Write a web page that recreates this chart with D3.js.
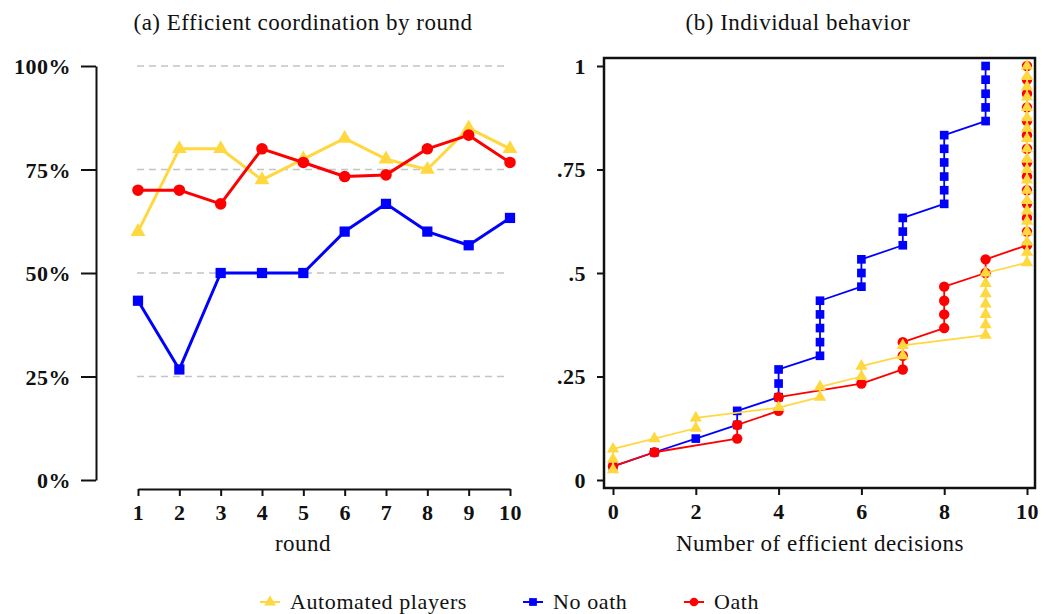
<!DOCTYPE html>
<html>
<head>
<meta charset="utf-8">
<script src="https://cdn.jsdelivr.net/npm/d3@7"></script>
<style>
  body { margin: 0; background: #fff; }
  text { font-family: "Liberation Serif", "DejaVu Serif", serif; fill: #111; }
</style>
</head>
<body>
<div id="chart"></div>
<script>
// ---- data, panel (a): efficient coordination by round ----
var rounds = [1, 2, 3, 4, 5, 6, 7, 8, 9, 10];
var automatedByRound = [0.6, 0.8, 0.8, 0.725, 0.775, 0.825, 0.775, 0.75, 0.85, 0.8];
var noOathByRound    = [0.433, 0.267, 0.5, 0.5, 0.5, 0.6, 0.667, 0.6, 0.567, 0.633];
var oathByRound      = [0.7, 0.7, 0.667, 0.8, 0.767, 0.733, 0.737, 0.8, 0.833, 0.767];
var pctTicks  = [0, 0.25, 0.5, 0.75, 1];
var pctLabels = ['0%', '25%', '50%', '75%', '100%'];

// ---- data, panel (b): cumulative share by number of efficient decisions ----
var automatedX = [0, 0, 0, 1, 2, 2, 4, 5, 5, 6, 6, 7, 7, 9, 9, 9, 9, 9, 9, 9,
                  10, 10, 10, 10, 10, 10, 10, 10, 10, 10, 10, 10, 10, 10, 10, 10, 10, 10, 10, 10];
var automatedY = [0.025, 0.05, 0.075, 0.1, 0.125, 0.15, 0.175, 0.2, 0.225, 0.25,
                  0.275, 0.3, 0.325, 0.35, 0.375, 0.4, 0.425, 0.45, 0.475, 0.5,
                  0.525, 0.55, 0.575, 0.6, 0.625, 0.65, 0.675, 0.7, 0.725, 0.75,
                  0.775, 0.8, 0.825, 0.85, 0.875, 0.9, 0.925, 0.95, 0.975, 1];
var noOathX = [0, 1, 2, 3, 3, 4, 4, 4, 5, 5, 5, 5, 5, 6, 6, 6, 7, 7, 7,
               8, 8, 8, 8, 8, 8, 9, 9, 9, 9, 9];
var noOathY = [0.033, 0.067, 0.1, 0.133, 0.167, 0.2, 0.233, 0.267, 0.3, 0.333,
               0.367, 0.4, 0.433, 0.467, 0.5, 0.533, 0.567, 0.6, 0.633, 0.667,
               0.7, 0.733, 0.767, 0.8, 0.833, 0.867, 0.9, 0.933, 0.967, 1];
var oathX = [0, 1, 3, 3, 4, 4, 6, 7, 7, 7, 8, 8, 8, 8, 9, 9,
             10, 10, 10, 10, 10, 10, 10, 10, 10, 10, 10, 10, 10, 10];
var oathY = [0.033, 0.067, 0.1, 0.133, 0.167, 0.2, 0.233, 0.267, 0.3, 0.333,
             0.367, 0.4, 0.433, 0.467, 0.5, 0.533, 0.567, 0.6, 0.633, 0.667,
             0.7, 0.733, 0.767, 0.8, 0.833, 0.867, 0.9, 0.933, 0.967, 1];
var shareTicks  = [0, 0.25, 0.5, 0.75, 1];
var shareLabels = ['0', '.25', '.5', '.75', '1'];
var decisionTicks = [0, 2, 4, 6, 8, 10];

var seriesNames = ['Automated players', 'No oath', 'Oath'];

var yellow = '#ffd83f', blue = '#0000ff', red = '#ff0000';

var svg = d3.select('#chart')
  .append('svg')
  .attr('width', 1049)
  .attr('height', 614);

// shared vertical scale
var y = d3.scaleLinear().domain([0, 1]).range([480, 66]);

function pts(xs, ys) {
  return xs.map(function(d, i) { return [d, ys[i]]; });
}

// draw one series: line + markers
function drawSeries(g, data, x, color, shape, size, lw) {
  var line = d3.line()
    .x(function(d) { return x(d[0]); })
    .y(function(d) { return y(d[1]); });
  g.append('path')
    .datum(data)
    .attr('d', line)
    .attr('fill', 'none')
    .attr('stroke', color)
    .attr('stroke-width', lw)
    .attr('stroke-linejoin', 'round');
  g.selectAll(null)
    .data(data)
    .enter()
    .append('path')
    .attr('d', d3.symbol().type(shape).size(size))
    .attr('transform', function(d) { return 'translate(' + x(d[0]) + ',' + y(d[1]) + ')'; })
    .attr('fill', color);
}

function styleAxis(g) {
  g.selectAll('line, path').attr('stroke', '#111').attr('stroke-width', 2);
  g.selectAll('text')
    .attr('font-family', '"Liberation Serif", serif')
    .attr('font-size', 22)
    .attr('font-weight', 'bold')
    .attr('letter-spacing', 0.5)
    .attr('fill', '#111');
}

function label(g, x, yy, txt) {
  g.append('text')
    .attr('x', x).attr('y', yy)
    .attr('text-anchor', 'middle')
    .attr('font-size', 23)
    .attr('letter-spacing', 0.5)
    .text(txt);
}

// ================= panel (a) =================
var xa = d3.scaleLinear().domain([1, 10]).range([138, 510]);
var ga = svg.append('g');

// dashed gridlines
ga.selectAll('.grid')
  .data(pctTicks.filter(function(d) { return d > 0; }))
  .enter()
  .append('line')
  .attr('x1', 137)
  .attr('x2', 506)
  .attr('y1', function(d) { return y(d); })
  .attr('y2', function(d) { return y(d); })
  .attr('stroke', '#c4c4c4')
  .attr('stroke-width', 1.5)
  .attr('stroke-dasharray', '7,5');

var yAxisA = ga.append('g')
  .attr('transform', 'translate(96,0)')
  .call(d3.axisLeft(y).tickValues(pctTicks)
    .tickFormat(function(d, i) { return pctLabels[i]; })
    .tickSize(15).tickSizeOuter(0).tickPadding(10));
styleAxis(yAxisA);
yAxisA.selectAll('text').attr('dy', '0.36em');

var xAxisA = ga.append('g')
  .attr('transform', 'translate(0,489)')
  .call(d3.axisBottom(xa).tickValues(rounds)
    .tickFormat(d3.format('d'))
    .tickSize(7).tickSizeOuter(0).tickPadding(8));
styleAxis(xAxisA);

label(ga, 303, 551, 'round');
label(ga, 303, 30, '(a) Efficient coordination by round');

drawSeries(ga.append('g'), pts(rounds, automatedByRound), xa, yellow, d3.symbolTriangle, 95, 3);
drawSeries(ga.append('g'), pts(rounds, noOathByRound), xa, blue, d3.symbolSquare, 105, 3);
drawSeries(ga.append('g'), pts(rounds, oathByRound), xa, red, d3.symbolCircle, 105, 3);

// ================= panel (b) =================
var xb = d3.scaleLinear().domain([0, 10]).range([613, 1027]);
var gb = svg.append('g');

var yAxisB = gb.append('g')
  .attr('transform', 'translate(604,0)')
  .call(d3.axisLeft(y).tickValues(shareTicks)
    .tickFormat(function(d, i) { return shareLabels[i]; })
    .tickSize(7).tickSizeOuter(0).tickPadding(11));
styleAxis(yAxisB);
yAxisB.select('.domain').remove();

var xAxisB = gb.append('g')
  .attr('transform', 'translate(0,488)')
  .call(d3.axisBottom(xb).tickValues(decisionTicks)
    .tickFormat(d3.format('d'))
    .tickSize(7).tickSizeOuter(0).tickPadding(8));
styleAxis(xAxisB);
xAxisB.select('.domain').remove();

label(gb, 820, 551, 'Number of efficient decisions');
label(gb, 798, 30, '(b) Individual behavior');

drawSeries(gb.append('g'), pts(noOathX, noOathY), xb, blue, d3.symbolSquare, 75, 1.8);
drawSeries(gb.append('g'), pts(oathX, oathY), xb, red, d3.symbolCircle, 85, 1.8);
drawSeries(gb.append('g'), pts(automatedX, automatedY), xb, yellow, d3.symbolTriangle, 65, 1.8);

// plot frame
gb.append('rect')
  .attr('x', 604).attr('y', 58)
  .attr('width', 431).attr('height', 430)
  .attr('fill', 'none')
  .attr('stroke', '#111')
  .attr('stroke-width', 2.5);

// ================= legend =================
var legendX = [260, 523, 684];
var legendShapes = [d3.symbolTriangle, d3.symbolSquare, d3.symbolCircle];
var legendColors = [yellow, blue, red];

var legend = svg.selectAll('.legend')
  .data(seriesNames)
  .enter()
  .append('g')
  .attr('transform', function(d, i) { return 'translate(' + legendX[i] + ',602)'; });

legend.append('line')
  .attr('x1', 0).attr('x2', 20)
  .attr('stroke', function(d, i) { return legendColors[i]; })
  .attr('stroke-width', 2);

legend.append('path')
  .attr('d', function(d, i) { return d3.symbol().type(legendShapes[i]).size(60)(); })
  .attr('transform', 'translate(10,0)')
  .attr('fill', function(d, i) { return legendColors[i]; });

legend.append('text')
  .attr('x', 30).attr('y', 7)
  .attr('font-size', 22)
  .attr('letter-spacing', 0.6)
  .text(function(d) { return d; });
</script>
</body>
</html>
